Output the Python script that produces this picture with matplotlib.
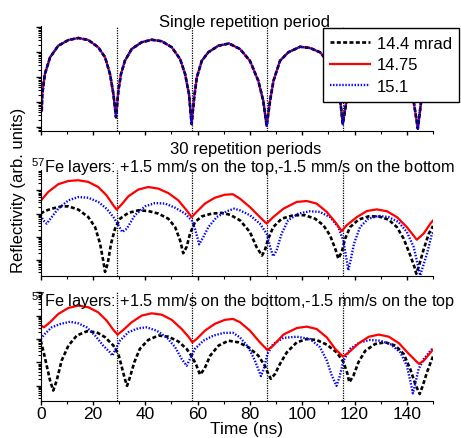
import numpy as np
import matplotlib
matplotlib.use("Agg")
import matplotlib.pyplot as plt
from matplotlib.ticker import MultipleLocator, NullFormatter, LogLocator

plt.rcParams['font.family'] = ['Liberation Sans', 'DejaVu Sans']
plt.rcParams['mathtext.fontset'] = 'custom'
plt.rcParams['mathtext.rm'] = 'Liberation Sans'

# log10 of reflectivity
# single repetition period (three angles practically coincide)
t1 = [0.4, 0.6, 1.6, 3.6, 6.7, 10.6, 14.4, 18.2, 22.0, 24.6, 26.5, 27.8, 28.8,
      29.7, 30.7, 32.2, 34.8, 38.6, 42.4, 46.3, 50.1, 53.3, 55.2, 56.7, 57.7,
      58.7, 59.7, 61.6, 64.1, 67.9, 72.0, 76.2, 80.0, 83.2, 85.1, 86.4,
      87.7, 89.0, 91.5, 94.7, 99.2, 103.0, 106.8, 110.0, 112.5, 114.5, 115.5,
      117.0, 118.5, 121.0, 125.0, 129.0, 133.0, 137.0, 140.0, 142.5, 144.2,
      145.5, 147.0, 150.0]
L1 = [-3.34, -2.67, -1.87, -1.2, -0.74, -0.51, -0.43, -0.51, -0.8, -1.2, -1.87, -2.67, -3.6,
      -2.54, -1.87, -1.34, -0.87, -0.6, -0.5, -0.56, -0.8, -1.27, -1.87, -2.67, -3.87,
      -2.8, -2.0, -1.34, -1.0, -0.74, -0.65, -0.87, -1.34, -2.14, -2.94, -3.94,
      -2.94, -2.14, -1.34, -1.0, -0.78, -0.83, -1.0, -1.4, -2.0, -2.9, -3.87,
      -2.9, -2.1, -1.45, -1.1, -0.95, -1.05, -1.4, -2.0, -2.9, -4.05,
      -2.94, -2.1, -1.4]

# 30 periods, +1.5 on top
t2r = [0.0, 2.9, 6.7, 10.6, 14.4, 18.2, 22.0, 25.2, 27.8, 29.05, 31.0, 33.5, 37.3, 41.1, 45.0,
       48.8, 52.6, 55.8, 57.7, 59.6, 62.8, 66.6, 70.4, 73.5, 76.2, 80.0, 83.8, 86.4, 88.9, 92.8,
       97.9, 101.7, 105.5, 109.4, 112.6, 115.1, 117.0, 120.9, 124.7, 128.5, 132.4, 136.2, 140.0,
       143.8, 146.4, 149.0, 150.0]
L2r = [-0.45, -0.07, 0.26, 0.40, 0.43, 0.36, 0.14, -0.22, -0.65, -0.83, -0.60, -0.26, 0.03, 0.14, 0.07,
       -0.12, -0.43, -0.86, -1.15, -0.93, -0.57, -0.32, -0.19, -0.17, -0.36, -0.72, -1.15, -1.43, -1.15, -0.79,
       -0.5, -0.46, -0.57, -0.93, -1.36, -1.75, -1.5, -1.15, -0.89, -0.82, -0.9, -1.15, -1.58,
       -2.12, -1.86, -1.43, -1.3]
t2b = [0.0, 1.0, 2.3, 4.2, 6.7, 10.6, 14.4, 18.2, 22.0, 25.2, 27.8, 29.7, 31.2, 32.9, 36.0,
       39.9, 43.7, 47.6, 51.4, 55.2, 57.7, 59.0, 60.6, 62.2, 64.1, 67.3, 71.1, 74.0, 76.2, 80.0,
       83.8, 86.4, 87.9, 88.9, 90.2, 92.1, 94.6, 98.5, 103.0, 106.8, 110.6, 113.8, 115.7, 117.0, 117.6,
       118.5, 119.8, 122.1, 125.3, 129.2, 133.0, 136.8, 140.0, 142.6, 144.1, 145.1, 146.1, 147.7, 149.6, 150.0]
L2b = [-1.07, -1.29, -1.43, -1.15, -0.79, -0.43, -0.29, -0.32, -0.5, -0.79, -1.15, -1.5, -1.79, -1.65, -1.07,
       -0.69, -0.55, -0.57, -0.75, -1.0, -1.29, -1.65, -2.32, -2.0, -1.58, -1.15, -0.9, -0.79, -0.86, -1.07,
       -1.43, -1.86, -2.5, -2.83, -2.58, -1.86, -1.29, -1.0, -0.9, -0.93, -1.15, -1.58, -2.15, -3.0, -3.43,
       -3.0, -2.29, -1.58, -1.22, -1.1, -1.15, -1.36, -1.79, -2.43, -3.15, -3.65, -3.29, -2.72, -1.86, -1.8]
t2k = [0.0, 1.6, 4.2, 8.0, 10.6, 14.4, 18.2, 20.8, 22.7, 24.0, 24.6, 25.6, 26.9, 28.4, 30.3,
       33.5, 37.3, 41.1, 45.0, 48.8, 51.4, 53.3, 54.5, 55.8, 57.1, 59.0, 61.6, 65.4, 69.2, 72.4,
       76.2, 80.0, 82.5, 84.6, 85.7, 87.0, 88.9, 92.1, 96.6, 101.0, 104.9, 108.1, 110.6, 112.6, 113.8,
       115.1, 116.4, 118.3, 121.5, 125.3, 129.2, 133.0, 136.2, 138.8, 141.3, 142.9, 143.6, 144.7, 146.3,
       148.4, 150.0]
L2k = [-1.0, -0.89, -0.79, -0.69, -0.69, -0.83, -1.15, -1.58, -2.29, -3.08, -3.5, -3.15, -2.29, -1.65, -1.22,
       -0.97, -0.86, -0.89, -1.0, -1.22, -1.58, -2.15, -2.7, -2.43, -1.86, -1.36, -1.12, -1.0, -0.97, -1.05,
       -1.29, -1.79, -2.43, -2.8, -2.58, -2.08, -1.58, -1.22, -1.07, -1.07, -1.22, -1.5, -1.93, -2.5, -2.93,
       -2.65, -2.08, -1.58, -1.26, -1.12, -1.12, -1.26, -1.58, -2.08, -2.79, -3.29, -3.58, -3.22, -2.58,
       -1.86, -1.53]

# 30 periods, +1.5 on bottom
t3r = [0.0, 1.2, 3.6, 6.7, 10.6, 14.4, 18.2, 22.0, 25.2, 27.8, 29.4, 31.6, 34.8, 38.6, 42.4,
       46.3, 50.1, 53.9, 56.5, 58.0, 59.6, 62.8, 66.6, 70.4, 73.5, 76.2, 80.0, 83.8, 86.7, 88.9,
       92.8, 97.9, 101.7, 105.5, 109.4, 112.6, 115.6, 117.8, 121.6, 125.5, 129.3, 133.1, 137.0, 140.8,
       144.6, 146.5, 149.1, 150.0]
L3r = [-0.42, -0.50, -0.28, 0.07, 0.33, 0.43, 0.36, 0.14, -0.21, -0.61, -0.81, -0.61, -0.28, 0.0, 0.10,
       0.04, -0.18, -0.57, -0.90, -1.14, -1.0, -0.64, -0.35, -0.18, -0.14, -0.28, -0.64, -1.14, -1.47, -1.28,
       -0.81, -0.53, -0.47, -0.57, -0.93, -1.42, -1.75, -1.57, -1.18, -0.90, -0.81, -0.90, -1.18, -1.64,
       -2.06, -1.92, -1.57, -1.45]
t3b = [0.0, 1.6, 4.2, 7.4, 11.2, 14.4, 17.6, 20.8, 23.9, 26.5, 27.4, 28.7, 30.3, 33.5, 37.3,
       40.5, 44.3, 48.2, 51.4, 53.9, 55.8, 57.1, 59.0, 62.2, 66.1, 69.9, 73.5, 76.2, 79.4, 81.9,
       84.2, 85.3, 86.7, 88.9, 92.8, 97.9, 103.0, 106.8, 109.4, 111.3, 113.1, 114.2, 115.8, 118.3, 122.1,
       125.9, 129.8, 133.6, 137.5, 140.0, 141.3, 142.3, 143.2, 144.5, 146.5, 149.1, 150.0]
L3b = [-1.0, -0.78, -0.50, -0.36, -0.26, -0.33, -0.50, -0.85, -1.28, -1.57, -1.71, -1.42, -1.07, -0.71, -0.54,
       -0.50, -0.64, -0.93, -1.35, -1.85, -2.14, -1.85, -1.42, -1.07, -0.85, -0.74, -0.73, -0.93, -1.35, -1.92,
       -2.58, -2.28, -1.64, -1.21, -0.95, -0.90, -1.0, -1.35, -1.92, -2.56, -3.0, -2.64, -1.92, -1.42, -1.14,
       -1.04, -1.07, -1.21, -1.57, -2.14, -2.78, -3.32, -2.92, -2.28, -1.85, -1.49, -1.38]
t3k = [0.0, 1.0, 2.3, 3.6, 4.8, 6.1, 8.0, 10.6, 13.8, 17.6, 21.4, 24.6, 27.8, 29.7, 31.2,
       32.2, 33.0, 34.1, 35.8, 37.9, 41.1, 45.0, 48.8, 52.6, 55.8, 58.0, 59.6, 60.9, 62.6, 64.8,
       68.0, 71.8, 75.6, 79.4, 83.2, 85.7, 87.0, 88.0, 89.6, 91.5, 94.1, 97.9, 101.7, 105.5, 109.4,
       113.2, 115.8, 117.3, 118.0, 119.6, 121.5, 124.1, 127.9, 131.8, 135.6, 138.8, 141.3, 143.2, 144.9,
       146.1, 147.7, 149.6, 150.0]
L3k = [-1.07, -1.5, -2.14, -2.78, -3.2, -2.78, -1.92, -1.28, -0.85, -0.67, -0.71, -0.92, -1.28, -1.64, -2.28,
       -2.71, -3.0, -2.64, -1.99, -1.42, -1.04, -0.85, -0.90, -1.1, -1.42, -1.78, -2.14, -2.52, -2.28, -1.71,
       -1.28, -1.07, -1.14, -1.35, -1.71, -2.14, -2.49, -2.7, -2.49, -2.06, -1.57, -1.14, -1.0, -1.04, -1.24,
       -1.57, -1.99, -2.49, -2.85, -2.56, -1.99, -1.50, -1.21, -1.14, -1.28, -1.64, -2.28, -2.92, -3.35,
       -2.99, -2.42, -1.85, -1.75]

period_marks = [29.0, 57.7, 86.5, 115.4]
labels = ["14.4 mrad", "14.75", "15.1"]

W, H = 461, 439
fig = plt.figure(figsize=(W / 100, H / 100), dpi=100)

def px_axes(top, bottom):
    left, right = 40.7, 433
    return fig.add_axes([left / W, 1 - bottom / H, (right - left) / W, (bottom - top) / H])

ax1 = px_axes(27, 132.3)
ax2 = px_axes(171, 277.3)
ax3 = px_axes(293, 402.3)
ylims = [(-4.16, 0.05), (-3.69, 0.87), (-3.66, 1.01)]

blk = dict(color='black', lw=1.9, ls=(0, (1.5, 0.9)))
red = dict(color='red', lw=1.6, ls='-')
blu = dict(color='blue', lw=1.7, ls=(0, (0.6, 0.7)))

r1, = ax1.plot(t1, 10 ** np.array(L1), **red)
k1, = ax1.plot(t1, 10 ** np.array(L1), **blk)
b1, = ax1.plot(t1, 10 ** np.array(L1), **blu)

ax2.plot(t2k, 10 ** np.array(L2k), **blk)
ax2.plot(t2b, 10 ** np.array(L2b), **blu)
ax2.plot(t2r, 10 ** np.array(L2r), **red)

ax3.plot(t3k, 10 ** np.array(L3k), **blk)
ax3.plot(t3b, 10 ** np.array(L3b), **blu)
ax3.plot(t3r, 10 ** np.array(L3r), **red)

for ax, (lo, hi) in zip([ax1, ax2, ax3], ylims):
    ax.set_yscale('log')
    ax.set_ylim(10 ** lo, 10 ** hi)
    ax.set_xlim(0, 150)
    for x in period_marks:
        ax.axvline(x, color='black', lw=0.9, ls=(0, (1, 1)), zorder=1)
    ax.spines['top'].set_visible(False)
    ax.spines['right'].set_visible(False)
    ax.xaxis.set_major_locator(MultipleLocator(20))
    ax.xaxis.set_minor_locator(MultipleLocator(10))
    ax.yaxis.set_major_locator(LogLocator(base=10, numticks=20))
    ax.yaxis.set_minor_locator(LogLocator(base=10, subs=np.arange(2, 10), numticks=20))
    ax.yaxis.set_major_formatter(NullFormatter())
    ax.yaxis.set_minor_formatter(NullFormatter())
    ax.tick_params(which='major', direction='out', length=3, width=1, labelsize=12.5, pad=0.5)
    ax.tick_params(which='minor', direction='out', length=2.5, width=0.8)
    ax.tick_params(axis='y', which='major', length=3.5)
    ax.tick_params(axis='y', which='minor', length=2)

ax1.set_xticklabels([])
ax2.set_xticklabels([])
fig.text(246 / W, 1 - 434.5 / H, "Time (ns)", ha='center', va='baseline', fontsize=12.5)

fig.text(18 / W, 1 - 190 / H, "Reflectivity (arb. units)", rotation=90,
         ha='center', va='center', fontsize=12)
fig.text(244 / W, 1 - 26.7 / H, "Single repetition period", ha='center', va='baseline', fontsize=12)
fig.text(246 / W, 1 - 154 / H, "30 repetition periods", ha='center', va='baseline', fontsize=12)
fig.text(31 / W, 1 - 173.3 / H, r"$^{57}$Fe layers: +1.5 mm/s on the top,-1.5 mm/s on the bottom",
         ha='left', va='baseline', fontsize=11.7)
fig.text(31 / W, 1 - 306.7 / H, r"$^{57}$Fe layers: +1.5 mm/s on the bottom,-1.5 mm/s on the top",
         ha='left', va='baseline', fontsize=11.7)

leg = ax1.legend([k1, r1, b1], labels, loc='upper left',
                 bbox_to_anchor=(322.7 / W, 1 - 29.3 / H), bbox_transform=fig.transFigure,
                 borderaxespad=0, fancybox=False, framealpha=1, edgecolor='black',
                 fontsize=12, handlelength=2.4, handletextpad=0.4, labelspacing=0.4,
                 borderpad=0.45)
leg.get_frame().set_linewidth(1.0)
leg.set_zorder(10)

fig.savefig("out.png", dpi=100)
